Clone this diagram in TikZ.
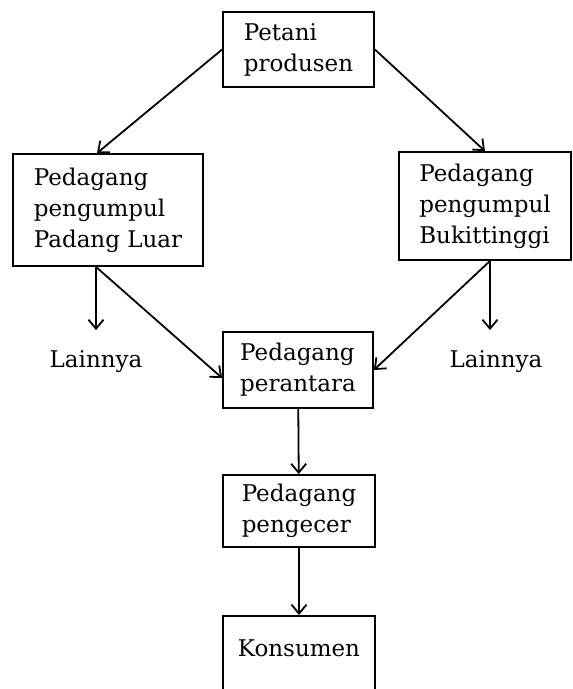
\documentclass[tikz,border=0pt]{standalone}
\usepackage{fontspec}
\setmainfont{DejaVu Serif}
\usetikzlibrary{arrows.meta,calc}

\begin{document}
\begin{tikzpicture}[x=1pt,y=-1pt,line width=1.8pt,
    >={Straight Barb[length=9pt,width=15pt]},
    box/.style={draw,rectangle,align=left,inner sep=0pt,
      font=\fontsize{23}{31}\selectfont},
    other/.style={inner xsep=2pt,inner ysep=20pt,
      font=\fontsize{23}{31}\selectfont}]
    \useasboundingbox (0,0) rectangle (573,689);
    \clip (0,0) rectangle (573,689);
    % Boxes
    \node (petani) at (298.5,49.5) [box,minimum width=151pt,minimum height=75pt]
      {Petani\\produsen};
    \node (padang) at (108,210) [box,minimum width=190pt,minimum height=112pt]
      {Pedagang\\pengumpul\\Padang Luar};
    \node (bukit) at (485,206) [box,minimum width=172pt,minimum height=108pt]
      {Pedagang\\pengumpul\\Bukittinggi};
    \node (perantara) at (298,370) [box,minimum width=150pt,minimum height=76pt]
      {Pedagang\\perantara};
    \node (pengecer) at (299,511) [box,minimum width=152pt,minimum height=72pt]
      {Pedagang\\pengecer};
    \node (konsumen) at (299,615) [box,anchor=north,minimum width=152pt,
      text height=17pt,text depth=80pt,inner ysep=24pt] {Konsumen};
    \node (lainL) at (96,362) [other] {Lainnya};
    \node (lainR) at (496,362) [other] {Lainnya};
    % Branch points
    \coordinate (pl) at (lainL |- padang.south);
    \coordinate (bt) at ([xshift=5pt]bukit.south);
    % Connectors
    \draw [->] (petani.west) -- ([xshift=-11pt]padang.north);
    \draw [->] (petani.east) -- (bukit.north);
    \draw [->] (pl) -- (lainL);
    \draw [->] (pl) -- ([yshift=-8pt]perantara.west);
    \draw [->] (bt) -- (bt |- lainR.north);
    \draw [->] (bt) -- (perantara.east);
    \draw [->] (perantara) -- (pengecer);
    \draw [->] (pengecer) -- (konsumen.north);
  \end{tikzpicture}
\end{document}
